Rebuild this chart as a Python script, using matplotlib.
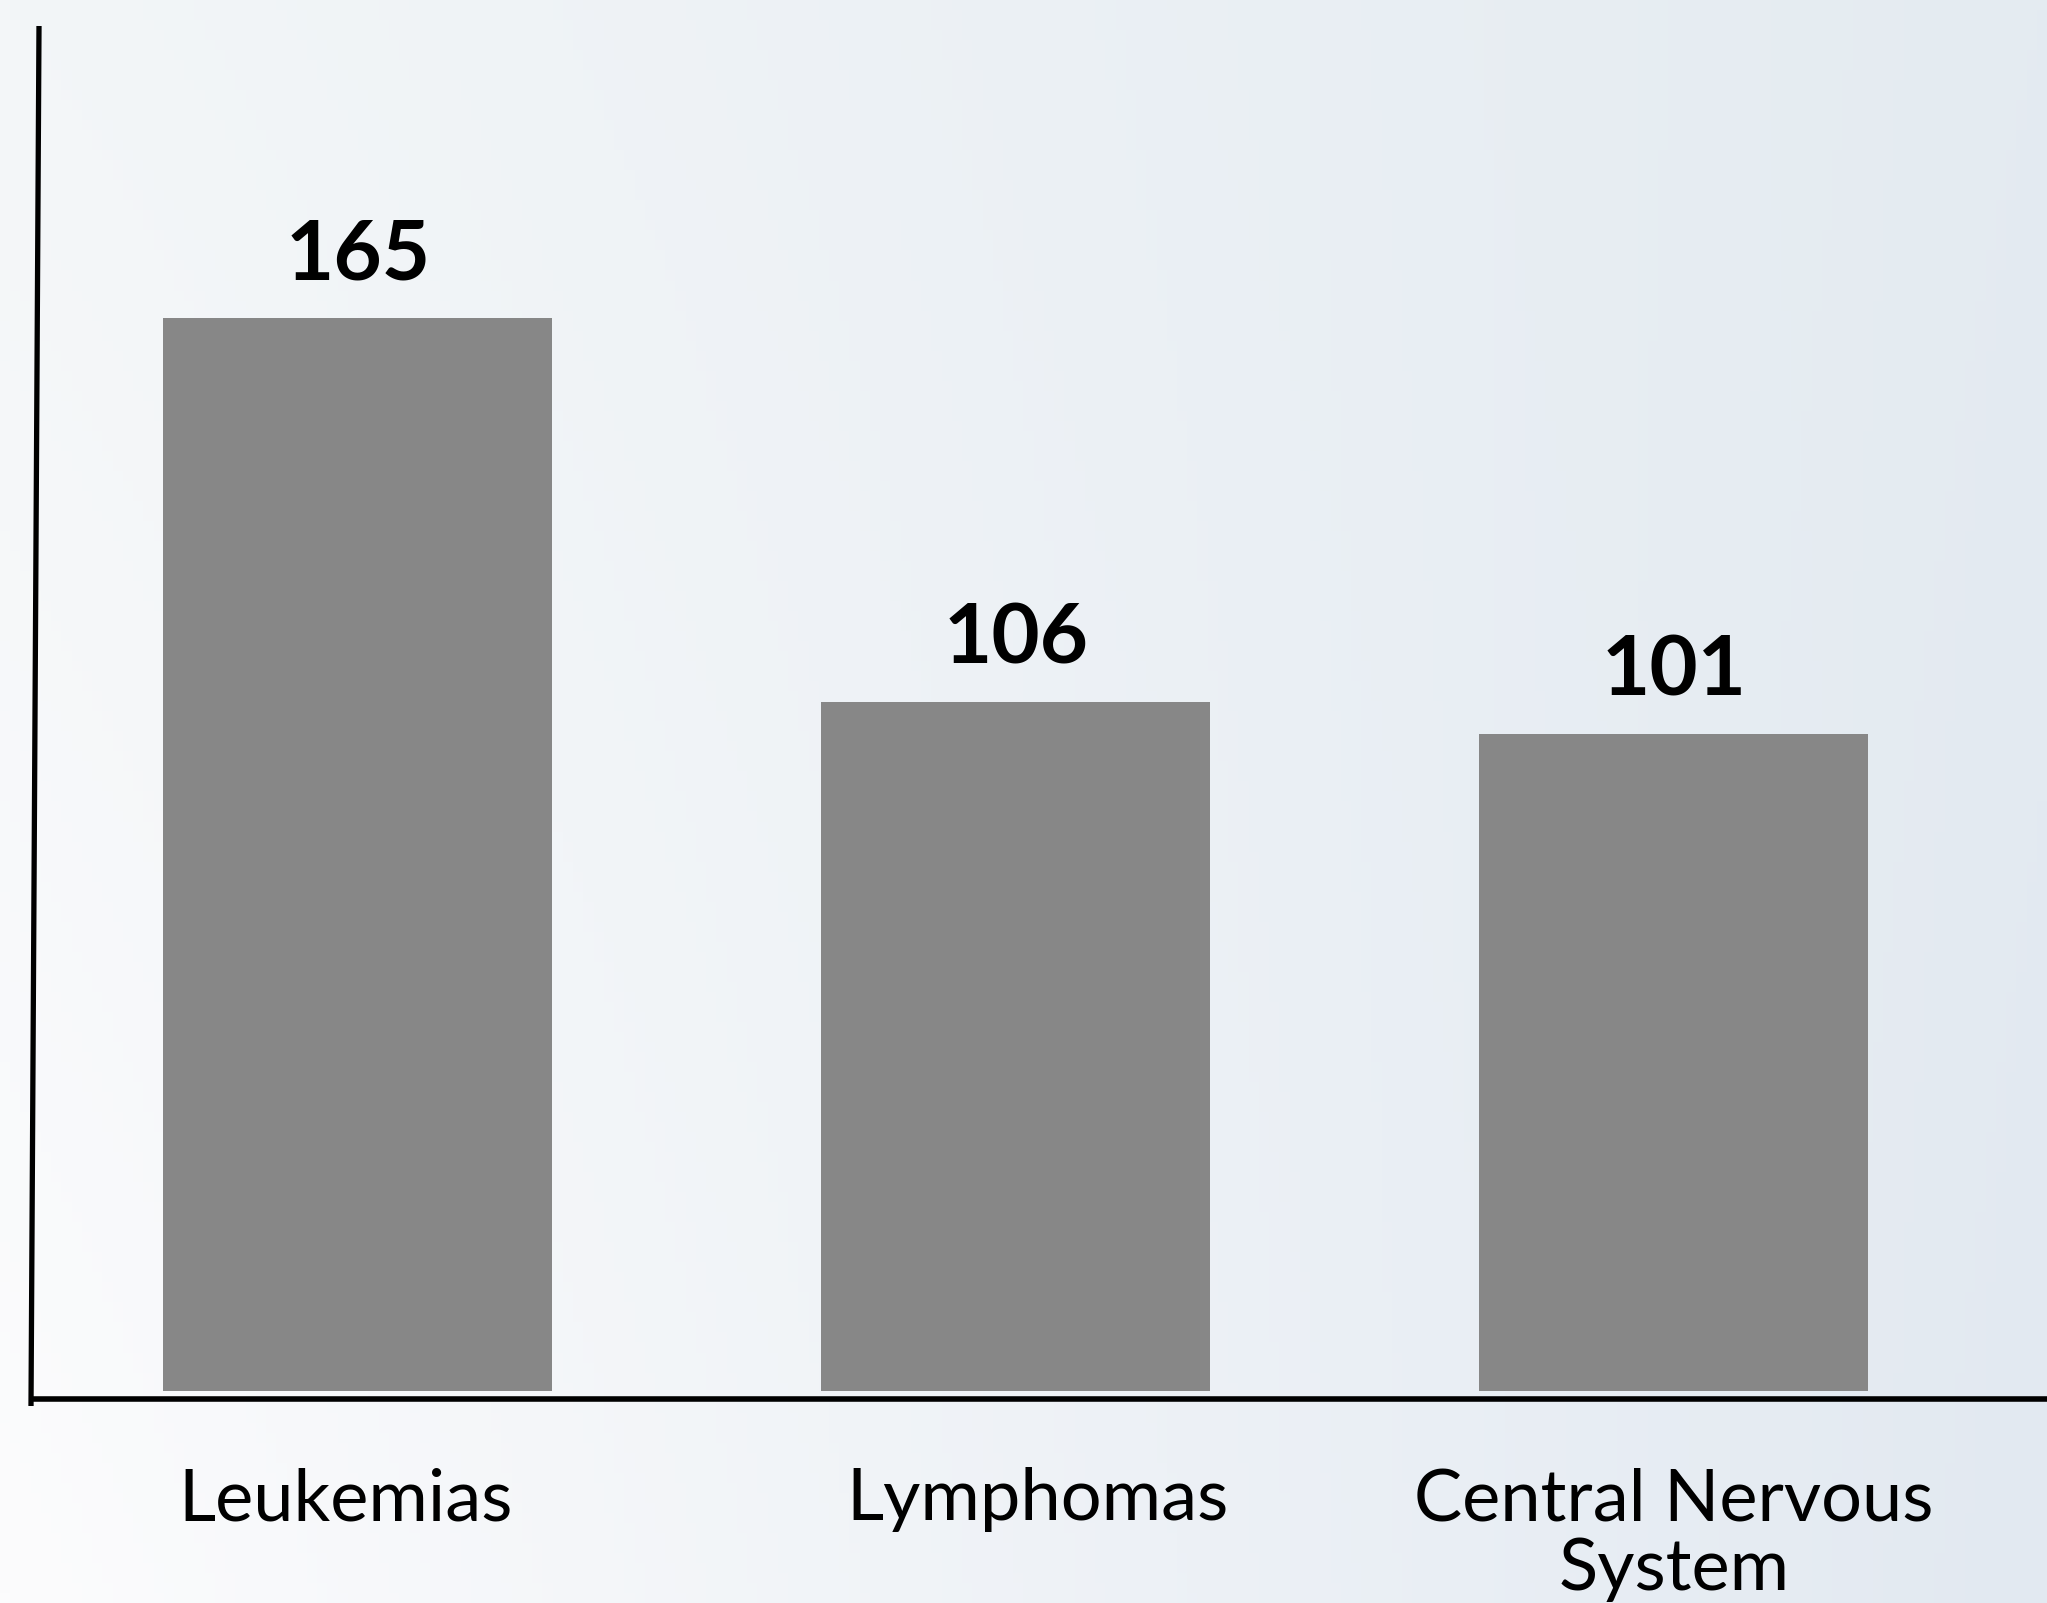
import numpy as np
import matplotlib
matplotlib.use("Agg")
import matplotlib.pyplot as plt
from matplotlib.lines import Line2D

categories = ["Leukemias", "Lymphomas", "Central Nervous\nSystem"]
counts = [165, 106, 101]

BAR_COLOUR = "#878787"
W, H = 2047, 1603
DPI = 100

plt.rcParams["font.family"] = ["Lato", "DejaVu Sans"]

fig = plt.figure(figsize=(W / DPI, H / DPI), dpi=DPI)

# soft background gradient (white at left, pale blue-grey at right)
bg = fig.add_axes([0, 0, 1, 1])
bg.set_axis_off()
tl = np.array([0xf3, 0xf6, 0xf8]) / 255.0
bl = np.array([0xfc, 0xfc, 0xfd]) / 255.0
tr = np.array([0xe4, 0xeb, 0xf1]) / 255.0
br = np.array([0xe2, 0xe9, 0xf1]) / 255.0
u = np.linspace(0, 1, 200)[None, :, None]
v = np.linspace(0, 1, 160)[:, None, None]
grad = (1 - u) * ((1 - v) * tl + v * bl) + u * ((1 - v) * tr + v * br)
bg.imshow(grad, aspect="auto", extent=[0, 1, 0, 1], origin="upper")
bg.set_xlim(0, 1)
bg.set_ylim(0, 1)

ax = fig.add_axes([0, (H - 1391) / H, 1, (1391 - 26) / H])
ax.patch.set_alpha(0)
x = np.arange(len(categories))
ax.bar(x, counts, width=0.591, color=BAR_COLOUR)
ax.set_xlim(-357.7 / 658, (W - 357.7) / 658)
ax.set_ylim(0, (1391 - 26) / 6.5)

for xi, c in zip(x, counts):
    ax.annotate(str(c), (xi, c), xytext=(0, 28), textcoords="offset points",
                ha="center", va="baseline", fontsize=60, fontweight="bold",
                color="black")

# category labels sit a little off-centre in the original
label_shift = [-8.5, 15.5, 0]
for xi, lab, dx in zip(x, categories, label_shift):
    ax.annotate(lab, (xi, 0), xytext=(dx, -55), textcoords="offset points",
                ha="center", va="top", fontsize=52, linespacing=1.08,
                color="black", annotation_clip=False)

ax.set_xticks([])
ax.set_yticks([])
for s in ax.spines.values():
    s.set_visible(False)

# hand-drawn looking axes
fig.add_artist(Line2D([39 / W, 31 / W], [1 - 26 / H, 1 - 1406 / H],
                      color="black", lw=3.8, solid_capstyle="butt"))
fig.add_artist(Line2D([29 / W, 1.0], [1 - 1399 / H, 1 - 1399 / H],
                      color="black", lw=4.0, solid_capstyle="butt"))

fig.savefig("out.png", dpi=DPI)
